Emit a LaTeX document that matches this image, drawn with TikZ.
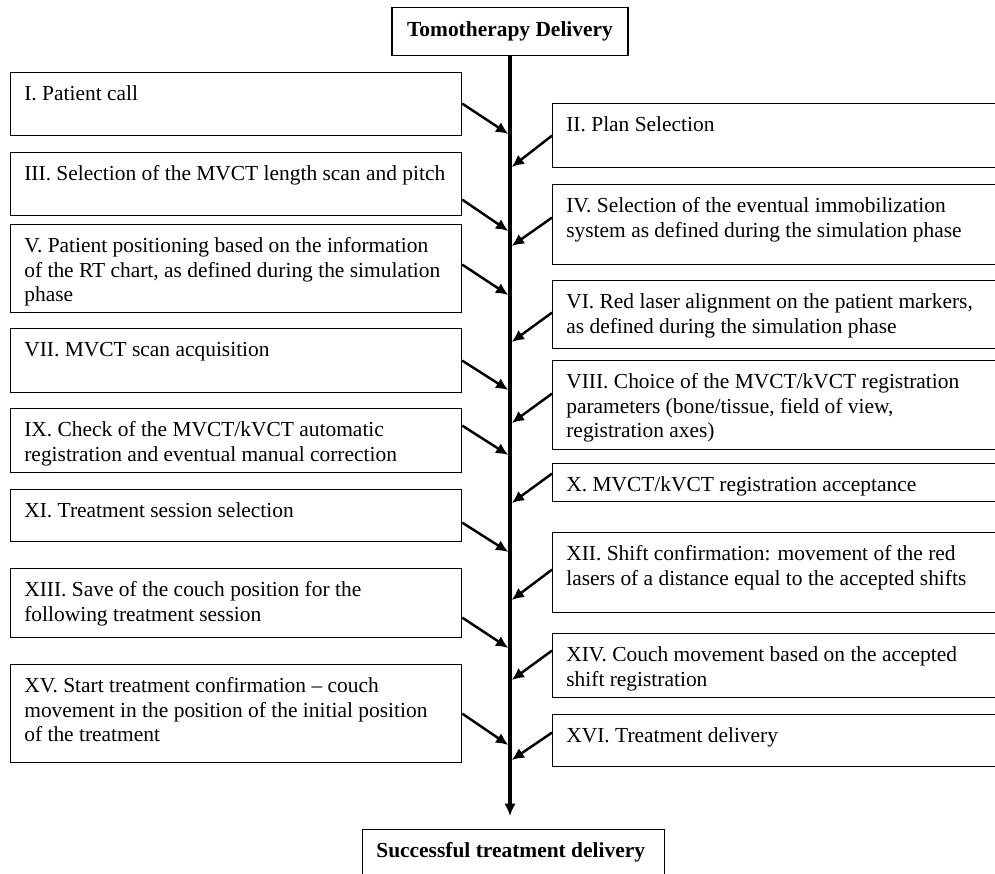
\documentclass[tikz,border=0pt]{standalone}
\usepackage{fontspec}
\setmainfont{Liberation Serif}
\usetikzlibrary{arrows.meta,calc}

\begin{document}
\begin{tikzpicture}
[x=0.02cm,y=-0.02cm,font=\fontsize{12.2}{13.9}\selectfont,
 stepbox/.style={draw, line width=0.7pt, anchor=north west, inner sep=0pt},
 steptext/.style={anchor=north west, align=left, inner sep=0pt, xshift=0.28cm, yshift=-0.27cm},
 feed/.style={line width=1.4pt, -{Latex[length=7pt,width=6.5pt]}},
 spine/.style={line width=1.9pt, -{Latex[length=7pt,width=6.5pt]}}]
\useasboundingbox (0,0) rectangle (995,874);
\node[draw, line width=0.7pt, anchor=north, minimum width=236*0.02cm, minimum height=48*0.02cm] (start) at (510,7) {\bfseries Tomotherapy Delivery};
\node[stepbox, minimum width=302*0.02cm, minimum height=60*0.02cm,
      label={[steptext]north west:\bfseries Successful treatment delivery}] (finish) at (362,829) {};
\coordinate (tail) at (510,816);
\draw[spine] (start.south) -- (tail);
% left column
\foreach \id/\ty/\hh/\sy/\ey/\txt in {
  I/72/63/103/134/{I. Patient call},
  III/152/63/199/231/{III. Selection of the MVCT length scan and pitch},
  V/224/88/264/295/{V. Patient positioning based on the information\\of the RT chart, as defined during the simulation\\phase},
  VII/328/64/360/390/{VII. MVCT scan acquisition},
  IX/408/64/425/455/{IX. Check of the MVCT/kVCT automatic\\registration and eventual manual correction},
  XI/489/52/522/552/{XI. Treatment session selection},
  XIII/568/69/617/648/{XIII. Save of the couch position for the\\following treatment session},
  XV/664/98/713/745/{XV. Start treatment confirmation -- couch\\movement in the position of the initial position\\of the treatment}}
{
  \node[stepbox, minimum width=451*0.02cm, minimum height=\hh*0.02cm,
        label={[steptext]north west:\txt}] (\id) at (10,\ty) {};
  \coordinate (\id-in) at (508.3,\ey);
  \draw[feed] ($(\id.east)+(0,\sy-\ty-\hh/2)$) -- (\id-in);
}
% right column
\foreach \id/\ty/\hh/\sy/\ey/\txt in {
  II/103/64/135/167/{II. Plan Selection},
  IV/184/80/217/246/{IV. Selection of the eventual immobilization\\system as defined during the simulation phase},
  VI/280/68/312/342/{VI. Red laser alignment on the patient markers,\\as defined during the simulation phase},
  VIII/360/89/393/423/{VIII. Choice of the MVCT/kVCT registration\\parameters (bone/tissue, field of view,\\registration axes)},
  X/463/38/473/503/{X. MVCT/kVCT registration acceptance},
  XII/532/80/569/600/{XII. Shift confirmation: movement of the red\\lasers of a distance equal to the accepted shifts},
  XIV/633/64/650/680/{XIV. Couch movement based on the accepted\\shift registration},
  XVI/714/52/732/760/{XVI. Treatment delivery}}
{
  \node[stepbox, minimum width=460*0.02cm, minimum height=\hh*0.02cm,
        label={[steptext]north west:\txt}] (\id) at (552,\ty) {};
  \coordinate (\id-in) at (511.7,\ey);
  \draw[feed] ($(\id.west)+(0,\sy-\ty-\hh/2)$) -- (\id-in);
}
\end{tikzpicture}
\end{document}
